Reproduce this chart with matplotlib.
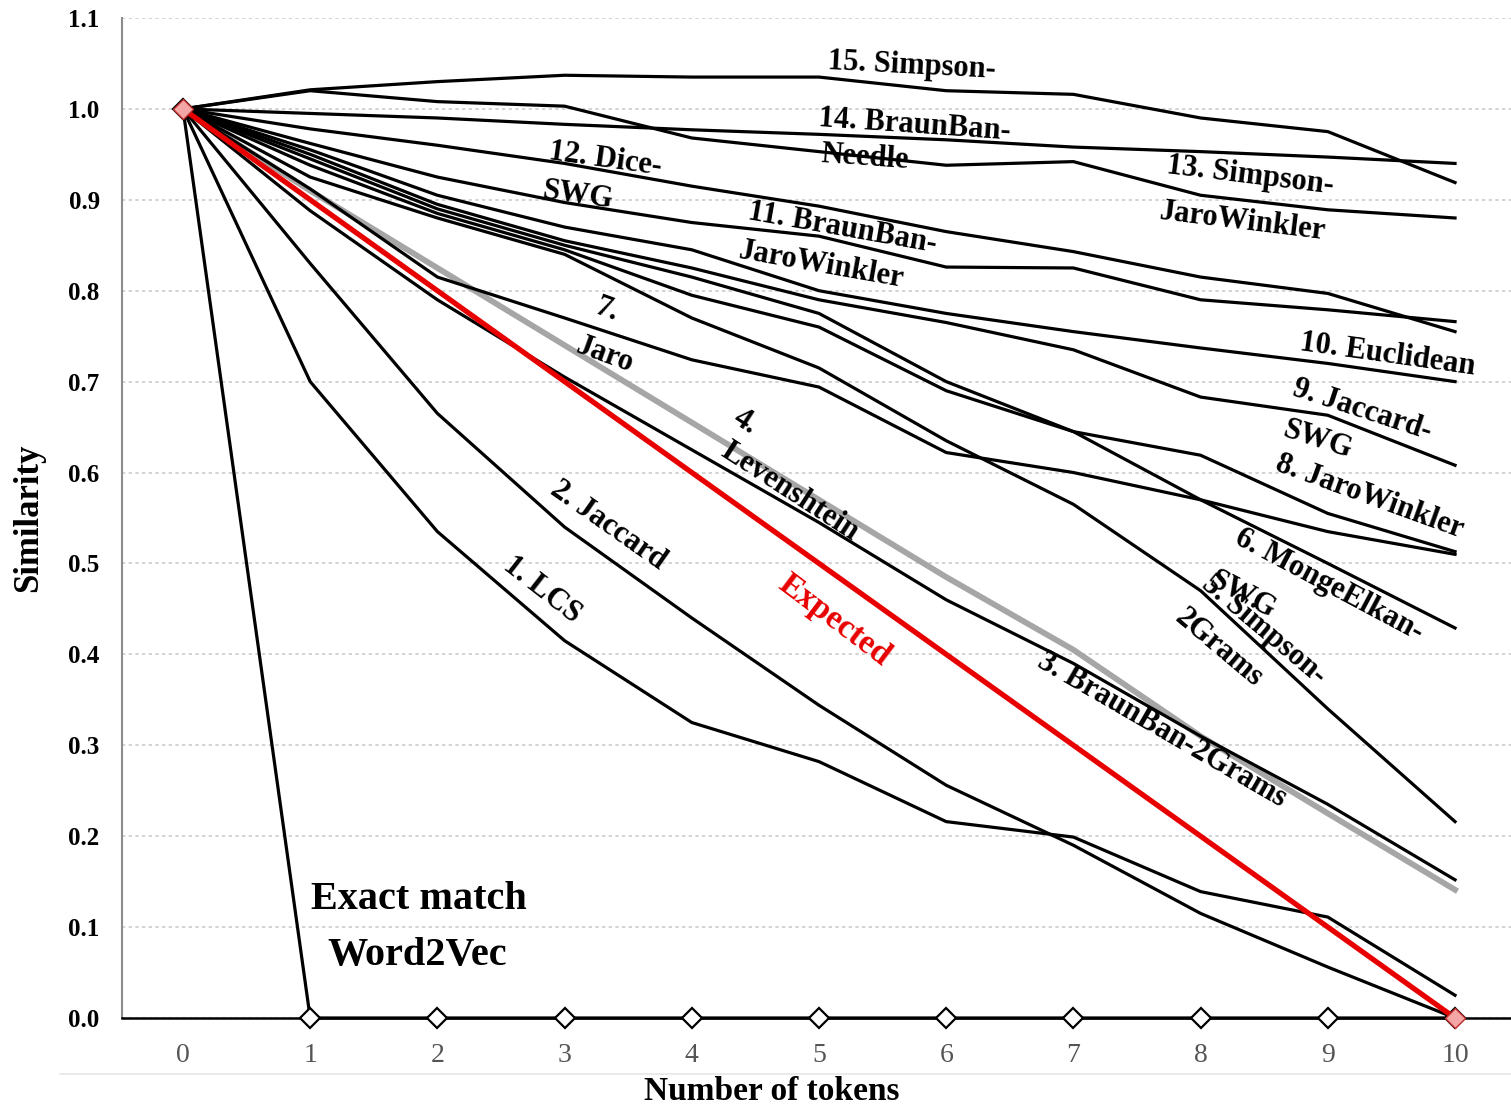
import numpy as np
import matplotlib.pyplot as plt
from matplotlib.lines import Line2D

# x values: number of tokens
tokens = [0, 1, 2, 3, 4, 5, 6, 7, 8, 9, 10]

# similarity curves
exact_w2v = [1, 0, 0, 0, 0, 0, 0, 0, 0, 0, 0]
expected = [1.0, 0.9, 0.8, 0.7, 0.6, 0.5, 0.4, 0.3, 0.2, 0.1, 0.0]
lcs = [1, 0.70, 0.535, 0.415, 0.325, 0.282, 0.216, 0.199, 0.139, 0.111, 0.025]
jaccard = [1, 0.83, 0.665, 0.54, 0.44, 0.344, 0.256, 0.19, 0.115, 0.056, 0.0]
braunban_2grams = [1, 0.888, 0.79, 0.705, 0.625, 0.545, 0.46, 0.39, 0.31, 0.235, 0.152]
levenshtein = [1, 0.91, 0.825, 0.74, 0.655, 0.57, 0.485, 0.405, 0.31, 0.225, 0.141]
simpson_2grams = [1, 0.925, 0.88, 0.84, 0.77, 0.715, 0.635, 0.565, 0.47, 0.34, 0.216]
mongeelkan_swg = [1, 0.938, 0.885, 0.845, 0.795, 0.76, 0.69, 0.645, 0.57, 0.50, 0.429]
jaro = [1, 0.912, 0.815, 0.77, 0.724, 0.694, 0.622, 0.60, 0.57, 0.535, 0.51]
jarowinkler = [1, 0.945, 0.89, 0.85, 0.815, 0.775, 0.70, 0.645, 0.619, 0.555, 0.513]
jaccard_swg = [1, 0.95, 0.895, 0.855, 0.825, 0.79, 0.765, 0.735, 0.683, 0.663, 0.608]
euclidean = [1, 0.955, 0.905, 0.87, 0.845, 0.80, 0.775, 0.755, 0.737, 0.72, 0.70]
braunban_jw = [1, 0.962, 0.925, 0.897, 0.875, 0.86, 0.826, 0.825, 0.79, 0.779, 0.766]
dice_swg = [1, 0.978, 0.96, 0.94, 0.915, 0.893, 0.865, 0.843, 0.815, 0.797, 0.755]
simpson_jw = [1, 1.02, 1.008, 1.003, 0.968, 0.953, 0.938, 0.942, 0.905, 0.889, 0.88]
braunban_needle = [1, 0.995, 0.99, 0.983, 0.977, 0.972, 0.966, 0.958, 0.953, 0.947, 0.94]
simpson_15 = [1, 1.021, 1.03, 1.037, 1.035, 1.035, 1.02, 1.016, 0.99, 0.975, 0.919]

black_series = [lcs, jaccard, braunban_2grams, simpson_2grams, mongeelkan_swg, jaro,
                jarowinkler, jaccard_swg, euclidean, braunban_jw, dice_swg,
                simpson_jw, braunban_needle, simpson_15]

# (text, x, y, rotation)
labels = [
    ("15. Simpson-", 5.73, 1.047, -3),
    ("14. BraunBan-", 5.75, 0.982, -4),
    ("Needle", 5.36, 0.946, -4),
    ("13. Simpson-", 8.39, 0.926, -7),
    ("JaroWinkler", 8.33, 0.876, -7),
    ("12. Dice-", 3.32, 0.944, -8),
    ("SWG", 3.10, 0.905, -8),
    ("11. BraunBan-", 5.18, 0.869, -10),
    ("JaroWinkler", 5.02, 0.828, -10),
    ("10. Euclidean", 9.47, 0.729, -8),
    ("9. Jaccard-", 9.27, 0.669, -18),
    ("SWG", 8.92, 0.636, -18),
    ("8. JaroWinkler", 9.33, 0.573, -20),
    ("6. MongeElkan-", 9.01, 0.476, -28),
    ("SWG", 8.33, 0.465, -28),
    ("5. Simpson-", 8.50, 0.427, -40),
    ("2Grams", 8.14, 0.407, -40),
    ("3. BraunBan-2Grams", 7.70, 0.317, -30),
    ("4.", 4.42, 0.656, -33),
    ("Levenshtein", 4.77, 0.579, -33),
    ("7.", 3.33, 0.779, -20),
    ("Jaro", 3.32, 0.729, -20),
    ("2. Jaccard", 3.34, 0.542, -35),
    ("1. LCS", 2.82, 0.471, -38),
]

plt.rcParams['font.family'] = ['Liberation Serif', 'DejaVu Serif']

fig = plt.figure(figsize=(15.11, 11.10), dpi=100)
ax = fig.add_axes([0.0807, 0.0829, 0.9193, 0.9009])

ax.set_xlim(-0.48, 10.44)
ax.set_ylim(0, 1.1)
ax.set_yticks(np.arange(0, 1.11, 0.1))
ax.set_yticklabels([f"{v:.1f}" for v in np.arange(0, 1.11, 0.1)],
                   fontsize=18, fontweight='bold')
ax.set_xticks(tokens)
ax.set_xticklabels([str(t) for t in tokens], fontsize=20, color='#555555')
ax.tick_params(axis='x', length=0, pad=18)
ax.tick_params(axis='y', length=0, pad=16)
ax.grid(axis='y', color='#cccccc', linestyle=(0, (2, 2)), linewidth=1.2)
ax.set_axisbelow(True)

for s in ['top', 'right']:
    ax.spines[s].set_visible(False)
ax.spines['left'].set_color('#8c8c8c')
ax.spines['left'].set_linewidth(1.5)
ax.spines['bottom'].set_color('black')
ax.spines['bottom'].set_linewidth(1.8)

ax.plot(tokens, levenshtein, color='#a6a6a6', linewidth=4.2, zorder=2)
for ys in black_series:
    ax.plot(tokens, ys, color='black', linewidth=2.3, zorder=3)

ax.plot(tokens, exact_w2v, color='black', linewidth=2.3, marker='D',
        markersize=10, markerfacecolor='white', markeredgecolor='black',
        markeredgewidth=1.6, zorder=4, clip_on=False)
ax.plot(tokens, expected, color='#e80000', linewidth=3.8, zorder=5,
        marker='D', markevery=[0, 10], markersize=10,
        markerfacecolor='#f4a6a6', markeredgecolor='#c03030', clip_on=False)

for txt, x, y, rot in labels:
    ax.text(x, y, txt, rotation=rot, rotation_mode='anchor', ha='center',
            va='center', fontsize=22, fontweight='bold', zorder=6)

ax.text(5.12, 0.438, "Expected", rotation=-37, rotation_mode='anchor',
        ha='center', va='center', fontsize=24, fontweight='bold',
        color='#e80000', zorder=6)
ax.text(1.855, 0.13, "Exact match", ha='center', va='center',
        fontsize=29, fontweight='bold', zorder=6)
ax.text(1.84, 0.069, "Word2Vec", ha='center', va='center',
        fontsize=29, fontweight='bold', zorder=6)

ax.set_xlabel("Number of tokens", fontsize=24, fontweight='bold')
ax.xaxis.set_label_coords(0.468, -0.058)
ax.set_ylabel("Similarity", fontsize=25, fontweight='bold')
ax.yaxis.set_label_coords(-0.055, 0.5)

# faint chart-area border below tick labels
fig.add_artist(Line2D([0.04, 1.0], [0.032, 0.032], color='#e6e6e6',
                      linewidth=1.2, transform=fig.transFigure))

fig.savefig("out.png", dpi=100)
